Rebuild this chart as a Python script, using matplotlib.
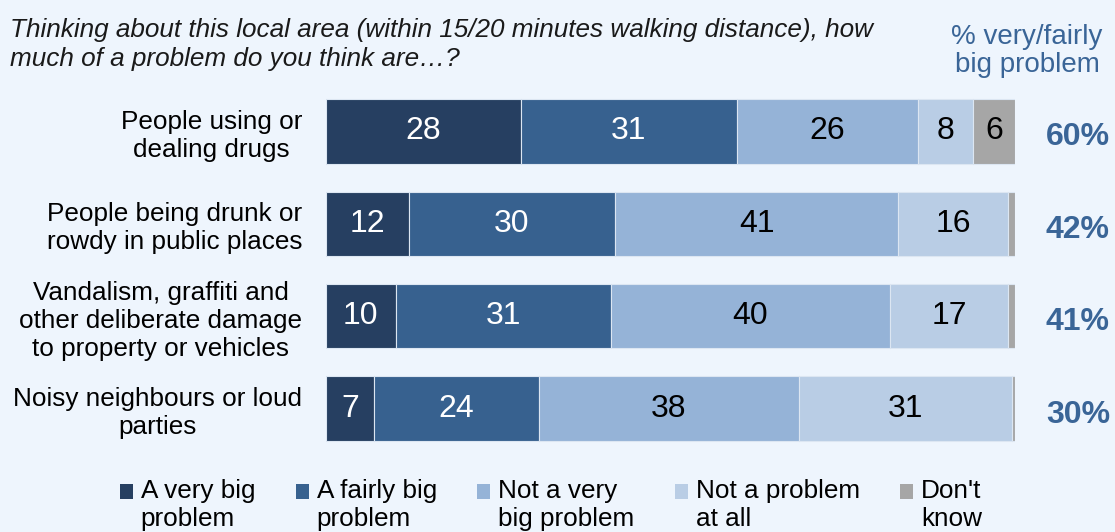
import matplotlib
matplotlib.use("Agg")
import matplotlib.pyplot as plt
from matplotlib.patches import Patch, Rectangle
from matplotlib.legend_handler import HandlerPatch
import numpy as np

plt.rcParams['font.family'] = ['Liberation Sans', 'DejaVu Sans']

categories = [
    "People using or\ndealing drugs",
    "People being drunk or\nrowdy in public places",
    "Vandalism, graffiti and\nother deliberate damage\nto property or vehicles",
    "Noisy neighbours or loud\nparties",
]
series_names = ["A very big\nproblem", "A fairly big\nproblem", "Not a very\nbig problem",
                "Not a problem\nat all", "Don't\nknow"]
very_big = [28, 12, 10, 7]
fairly_big = [31, 30, 31, 24]
not_very_big = [26, 41, 40, 38]
not_at_all = [8, 16, 17, 31]
dont_know = [6, 1, 1, 0.5]
pct_big = ["60%", "42%", "41%", "30%"]

colors = ["#263F61", "#37618F", "#95B3D7", "#B9CDE5", "#A6A6A6"]
text_colors = ["white", "white", "black", "black", "black"]
bg = "#EEF5FD"
accent = "#3A6597"

fig = plt.figure(figsize=(11.15, 5.32), dpi=100, facecolor=bg)
W, H = 1115, 532
ax = fig.add_axes([326 / W, (H - 454.7) / H, 689 / W, 369.4 / H])
ax.set_facecolor(bg)

data = np.array([very_big, fairly_big, not_very_big, not_at_all, dont_know], dtype=float)
totals = data.sum(axis=0)
norm = data / totals * 100
y = np.arange(len(categories))
left = np.zeros(len(categories))
for i in range(data.shape[0]):
    ax.barh(y, norm[i], left=left, height=0.70, color=colors[i],
            edgecolor="#DCE6F2", linewidth=0.8)
    for j in range(len(categories)):
        if data[i, j] >= 3:
            ax.text(left[j] + norm[i, j] / 2, y[j], f"{data[i, j]:g}",
                    ha="center", va="center", fontsize=23, color=text_colors[i])
    left += norm[i]

ax.set_xlim(0, 100)
ax.set_ylim(len(categories) - 0.5, -0.5)
ax.set_yticks(y)
ax.set_yticklabels(categories, fontsize=18.8, multialignment="center", linespacing=1.21)
ax.tick_params(axis="y", length=0, pad=17)
ax.set_xticks([])
for s in ax.spines.values():
    s.set_visible(False)

# percentage column
for j, p in enumerate(pct_big):
    ax.annotate(p, xy=(1, y[j]), xycoords=("axes fraction", "data"),
                xytext=(1078 - 1015, -6), textcoords="offset pixels",
                ha="center", va="center", fontsize=23, fontweight="bold", color=accent)

fig.text(1027 / W, 1 - 51 / H, "% very/fairly\nbig problem", ha="center", va="center",
         fontsize=20, color=accent, linespacing=1.12)

fig.text(10 / W, 1 - 18 / H,
         "Thinking about this local area (within 15/20 minutes walking distance), how\n"
         "much of a problem do you think are\u2026?",
         ha="left", va="top", fontsize=18.8, fontstyle="italic", color="#1A1A1A",
         linespacing=1.26)


def top_square(legend, orig_handle, xdescent, ydescent, width, height, fontsize):
    return Rectangle((-xdescent, -ydescent + 10), width, height)


handles = [Patch(facecolor=c, edgecolor="none") for c in colors]
leg = fig.legend(handles, series_names, loc="center", bbox_to_anchor=(551 / W, 1 - 505 / H),
                 ncol=5, frameon=False, fontsize=18.8, handlelength=0.5, handleheight=0.5,
                 handletextpad=0.3, columnspacing=1.55, borderaxespad=0,
                 handler_map={Patch: HandlerPatch(patch_func=top_square)})
for t in leg.get_texts():
    t.set_linespacing(1.2)

fig.savefig("out.png", dpi=100, facecolor=bg)
